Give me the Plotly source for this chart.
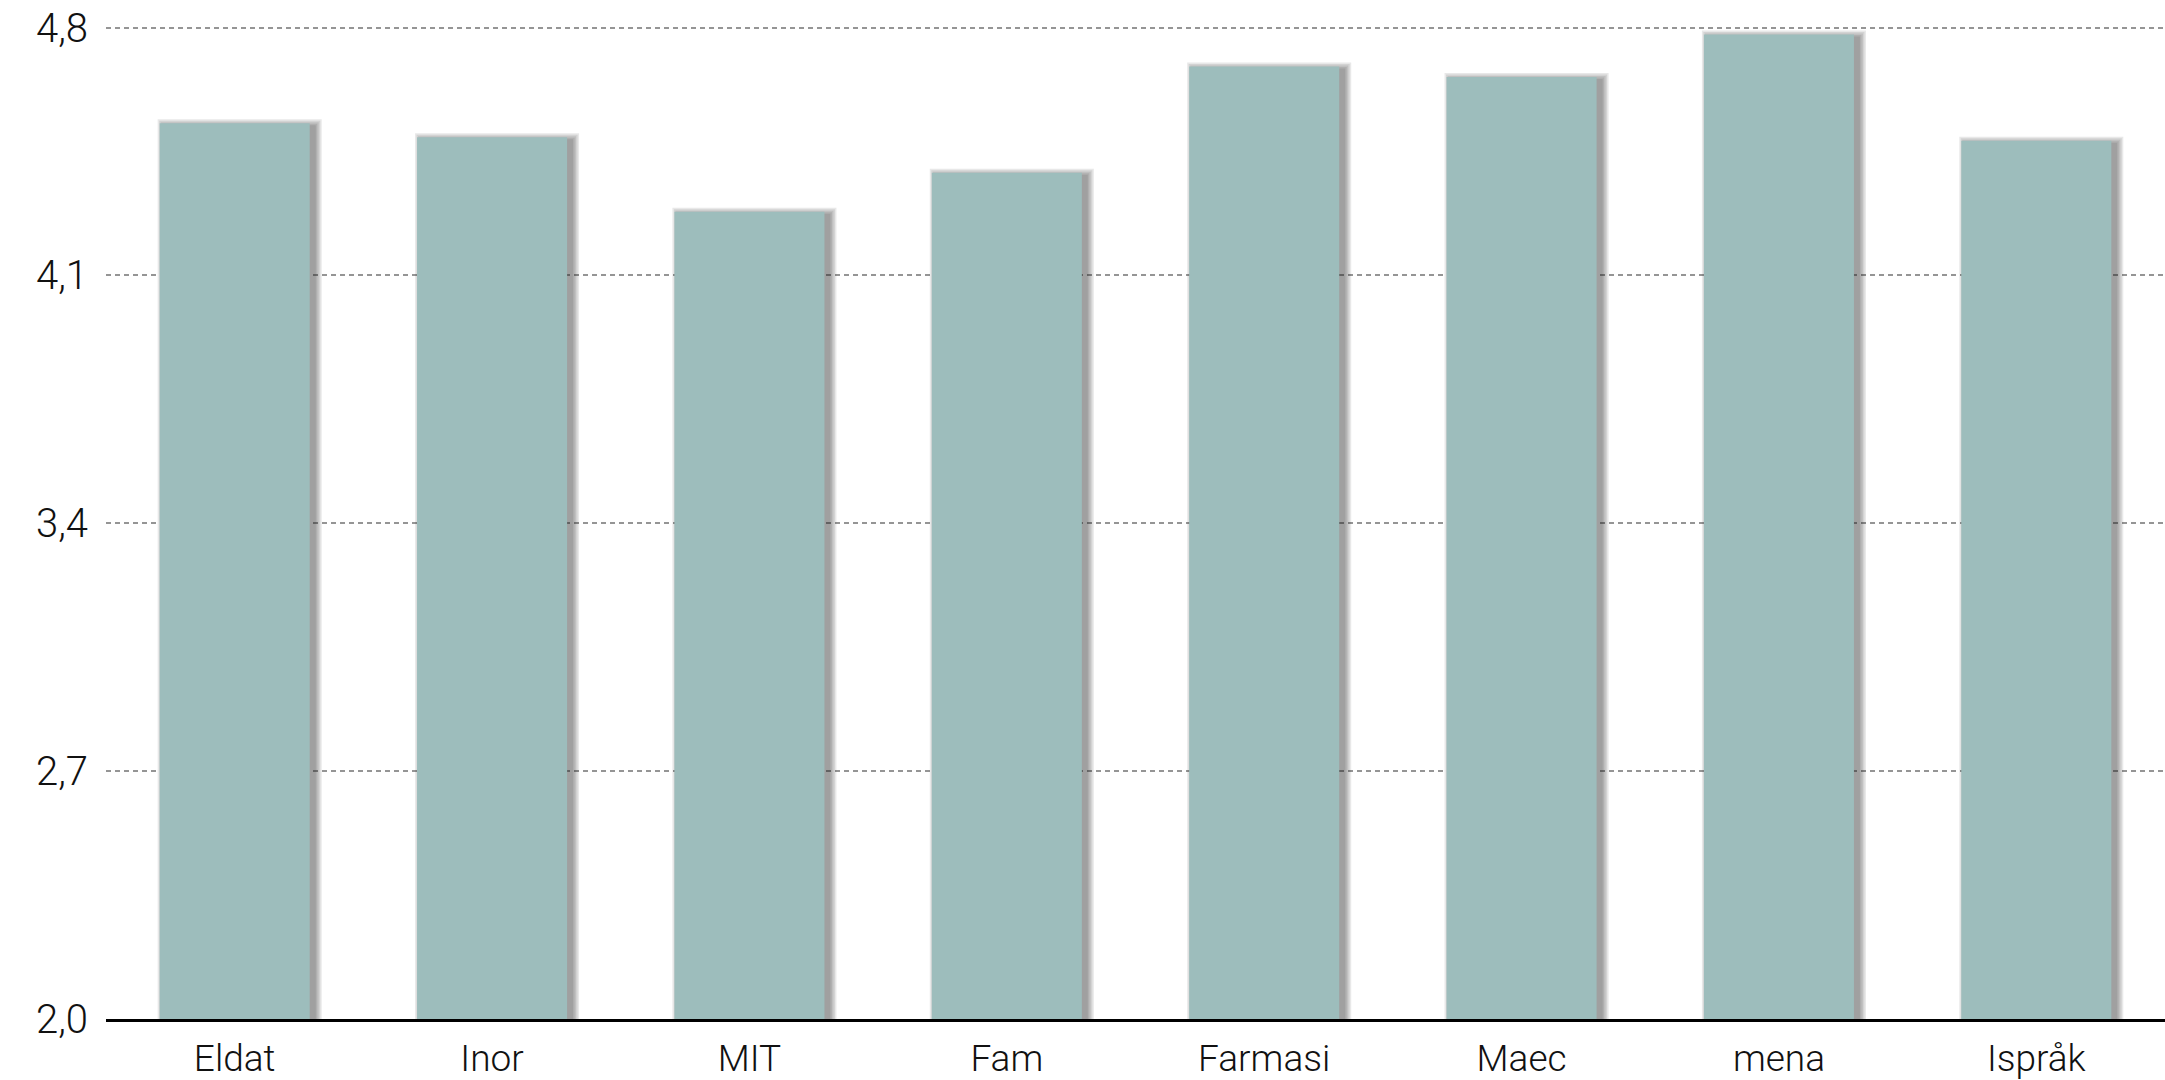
import plotly.graph_objects as go

categories = ["Eldat", "Inor", "MIT", "Fam", "Farmasi", "Maec", "mena", "Ispråk"]
values = [4.53, 4.49, 4.28, 4.39, 4.69, 4.66, 4.78, 4.48]
tick_vals = [2.0, 2.7, 3.4, 4.1, 4.8]
tick_text = ["2,0", "2,7", "3,4", "4,1", "4,8"]

BAR_COLOR = "#9dbdbc"
BAR_W = 0.583
YFONT = dict(family="Roboto, 'Liberation Sans', Arial, sans-serif", size=40, color="#111111", weight=300)
XFONT = dict(family="Roboto, 'Liberation Sans', Arial, sans-serif", size=37, color="#111111", weight=300)

W, H = 2165, 1080
ML, MR, MB = 106, 0, 61
px_per_cat = (W - ML - MR) / len(categories)
px_per_unit = 247.8 / 0.7
y_top = 4.81
MT = round(H - MB - (y_top - tick_vals[0]) * px_per_unit)

fig = go.Figure()

# soft drop shadow built from layered translucent bars
for spread in [1.0, 2.5, 4.0, 5.5, 7.0]:
    sw = BAR_W + 2 * spread / px_per_cat
    shift = 5.0 / px_per_cat
    dy = (spread - 3.0) / px_per_unit
    fig.add_trace(go.Bar(
        x=categories,
        y=[v + dy for v in values],
        width=sw,
        offset=-sw / 2 + shift,
        marker=dict(color="rgba(30,30,30,0.10)", line=dict(width=0)),
        hoverinfo="skip",
        showlegend=False,
    ))

fig.add_trace(go.Bar(
    x=categories,
    y=values,
    width=BAR_W,
    marker=dict(color=BAR_COLOR, line=dict(width=0)),
    showlegend=False,
))

fig.update_layout(
    width=W, height=H,
    margin=dict(l=ML, r=MR, t=MT, b=MB),
    paper_bgcolor="white",
    plot_bgcolor="white",
    barmode="overlay",
    font=YFONT,
    showlegend=False,
)

fig.update_xaxes(
    showgrid=False,
    showline=True, linecolor="#000000", linewidth=3,
    ticks="", tickfont=XFONT,
    ticklabelstandoff=5,
    zeroline=False,
    automargin=False,
)

fig.update_yaxes(
    range=[tick_vals[0], y_top],
    tickmode="array", tickvals=tick_vals, ticktext=tick_text,
    showgrid=True, gridcolor="#959595", gridwidth=2, griddash="5px,4px",
    showline=False, zeroline=False,
    ticks="", tickfont=YFONT,
    ticklabelstandoff=17,
    automargin=False,
)

fig.write_html(
    "out.html",
    config={"displayModeBar": False},
    post_script="document.body.style.margin='0';document.body.style.overflow='hidden';",
)
